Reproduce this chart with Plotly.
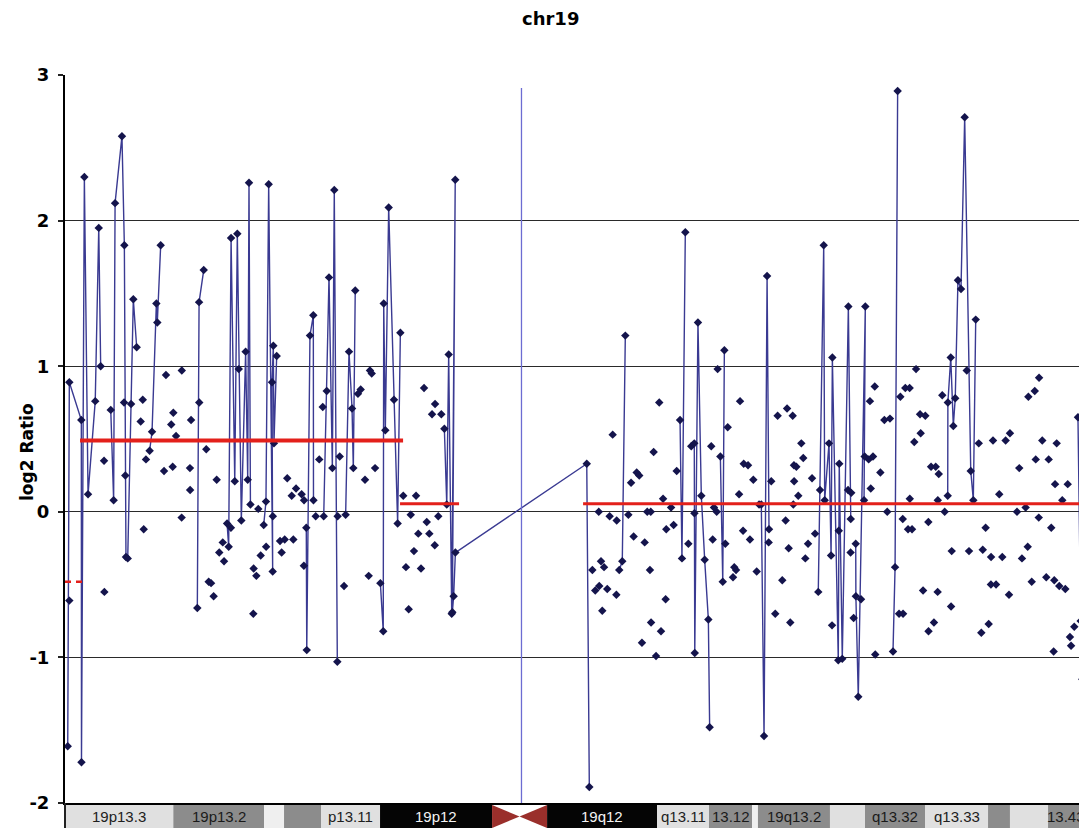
import plotly.graph_objects as go

# ---------------- data (positions in Mb along chr19, values log2 ratio) ----------------
# probes linked by the profile line (None = break in the line)
linked_pos = [
    0.17, 0.27, 1.02, 1.03, 1.21, 1.44, 1.89, 2.11, 2.23, None,
    2.86, 3.04, 3.13, 3.56, 3.71, 3.81, 3.92, 4.27, 4.48, None,
    5.29, 5.44, 5.71, 5.77, 5.98, None,
    8.27, 8.38, 8.67, None,
    10.13, 10.23, 10.38, 10.61, 10.77, 11.02, 11.29, 11.42, 11.50, 11.59, None,
    12.42, 12.56, 12.73, 12.98, 12.94, 13.02, 13.06, 13.23, None,
    15.08, 15.11, 15.31, 15.52, 15.53, None,
    16.17, 16.36, 16.50, 16.71, 16.83, 17.02, None,
    17.54, 17.75, 17.94, 18.02, 18.14, None,
    19.71, 19.89, 19.92, 20.02, 20.23, 20.56, 20.79, 20.96, None,
    23.71, 23.86, 23.98, 24.17, 24.39, 24.21, 24.29, 24.40, 32.61, 32.77, None,
    34.64, 34.83, 35.02, None,
    38.44, 38.56, 38.77, None,
    39.33, 39.36, 39.56, 39.77, 39.98, 40.21, 40.29, None,
    40.96, 41.11, 41.21, None,
    43.52, 43.69, 43.88, 44.00, None,
    47.08, 47.42, 47.48, 47.75, 47.88, 47.96, 48.33, 48.39, 48.58, 48.96, 49.11, None,
    49.42, 49.43, 49.58, 50.02, 49.94, None,
    51.75, 51.88, 52.04, None,
    55.17, 55.18, 55.36, 55.52, 55.64, 55.81, 56.00, 56.23, 56.61, 56.77, 56.92, None,
    63.31, 63.48, 63.58,
]
linked_val = [
    -1.61, 0.89, 0.63, -1.72, 2.30, 0.12, 0.76, 1.95, 1.00, None,
    0.70, 0.08, 2.12, 2.58, 1.83, -0.31, -0.32, 1.46, 1.13, None,
    0.42, 0.55, 1.43, 1.30, 1.83, None,
    -0.66, 1.44, 1.66, None,
    -0.08, -0.24, 1.88, 0.21, 1.91, -0.06, 1.10, 0.22, 2.26, 0.05, None,
    -0.09, 0.07, 2.25, -0.41, 0.89, 1.14, 0.47, 1.07, None,
    -0.11, -0.95, 1.21, 1.35, 0.08, None,
    -0.03, 0.83, 1.61, 0.30, 2.21, -1.03, None,
    -0.02, 1.10, 0.71, 0.30, 1.52, None,
    -0.49, -0.82, 1.43, 0.56, 2.09, 0.77, -0.08, 1.23, None,
    0.57, 0.05, 1.08, -0.70, 2.28, -0.69, -0.58, -0.28, 0.33, -1.89, None,
    -0.40, -0.34, 1.21, None,
    0.63, -0.32, 1.92, None,
    0.47, -0.97, 1.30, 0.11, -0.33, -0.74, -1.48, None,
    0.38, -0.48, 1.11, None,
    0.05, -1.54, 1.62, -0.12, None,
    -0.55, 1.83, 0.08, 0.47, -0.30, 1.06, -1.02, 0.33, -1.01, 1.41, -0.05, None,
    -0.22, -0.58, -1.27, 1.41, 0.08, None,
    -0.96, -0.38, 2.89, None,
    0.11, 0.75, 1.06, 0.59, 0.78, 1.59, 1.53, 2.71, 0.28, 0.08, 1.32, None,
    0.65, -0.75, -1.15,
]

# remaining probes, p arm
p_pos = [
    0.27, 2.44, 2.46, 3.69, 3.77, 4.13, 4.73, 4.86, 4.92, 5.06,
    6.19, 6.31, 6.64, 6.73, 6.77, 6.94, 7.29, 7.30, 7.81, 7.82,
    7.88, 8.39, 8.83, 8.98, 9.13, 9.29, 9.48, 9.64, 9.86, 9.94,
    10.37, 10.86, 11.79, 11.96, 11.77, 12.08, 12.23, 12.57, 12.99, 13.44,
    13.54, 13.73, 13.89, 14.17, 14.27, 14.44, 14.79, 14.94, 14.93, 15.67,
    15.89, 16.11, 17.04, 17.17, 17.44, 18.31, 18.48, 18.75, 18.98, 19.06,
    19.17, 19.38, 21.14, 21.31, 21.48, 21.61, 21.81, 21.94, 22.08, 22.25,
    22.44, 22.61, 22.77, 22.94, 23.13, 23.11, 23.33, 23.52,
]
p_val = [
    -0.61, 0.35, -0.55, 0.75, 0.25, 0.74, 0.62, 0.77, -0.12, 0.36,
    0.28, 0.94, 0.60, 0.31, 0.68, 0.52, -0.04, 0.97, 0.30, 0.15,
    0.63, 0.75, 0.43, -0.48, -0.49, -0.58, 0.22, -0.28, -0.21, -0.34,
    -0.11, 0.98, -0.39, -0.44, -0.70, 0.02, -0.30, -0.24, -0.03, -0.20,
    -0.28, -0.19, 0.23, 0.11, -0.19, 0.16, 0.12, 0.08, -0.37, -0.03,
    0.36, 0.72, -0.03, 0.38, -0.51, 0.81, 0.84, 0.22, -0.44, 0.97,
    0.95, 0.30, 0.11, -0.38, -0.67, -0.02, -0.27, 0.11, -0.15, -0.39,
    0.85, -0.07, -0.15, 0.67, 0.74, -0.23, -0.03, 0.67,
]

# remaining probes, q arm
q_pos = [
    32.96, 33.36, 33.50, 33.69, 33.14, 33.39, 33.58, 33.89, 34.04, 34.23,
    34.46, 34.48, 35.21, 35.38, 35.54, 35.73, 35.89, 36.06, 36.23, 36.39,
    36.61, 36.56, 36.63, 36.79, 36.94, 37.14, 37.25, 37.38, 37.54, 37.58,
    37.88, 38.04, 38.23, 38.96, 39.14, 39.34, 40.39, 40.48, 40.56, 40.73,
    40.79, 41.27, 41.42, 41.75, 41.83, 41.94, 42.13, 42.19, 42.38, 42.42,
    42.69, 42.81, 43.02, 43.23, 43.38, 43.98, 44.14, 44.39, 44.54, 44.83,
    45.04, 45.13, 45.48, 45.23, 45.33, 45.52, 45.56, 45.71, 45.57, 45.83,
    46.02, 46.14, 46.27, 46.44, 46.69, 46.88, 47.19, 47.94, 48.36, 48.94,
    49.14, 49.10, 49.29, 49.75, 49.98, 50.23, 50.50, 50.31, 50.36, 50.61,
    50.64, 50.96, 51.21, 51.56, 51.39, 52.13, 52.38, 52.21, 52.36, 52.52,
    52.79, 52.69, 52.94, 52.80, 53.19, 53.08, 53.44, 53.77, 53.48, 53.63,
    53.96, 53.97, 54.31, 54.13, 54.42, 54.61, 54.54, 54.55, 54.83, 54.98,
    55.38, 55.42, 56.36, 56.50, 57.11, 57.27, 57.36, 57.54, 57.73, 57.88,
    57.87, 58.19, 58.00, 58.39, 58.58, 58.79, 59.00, 59.06, 59.50, 59.64,
    59.81, 60.04, 60.17, 60.21, 60.42, 60.61, 60.67, 60.86, 60.88, 61.08,
    61.33, 61.48, 61.64, 61.83, 61.88, 61.98, 62.14, 62.33, 62.52, 62.67,
    62.81, 62.88, 63.08, 63.69, 61.79,
]
q_val = [
    -0.40, 0.00, -0.34, -0.38, -0.54, -0.51, -0.68, -0.53, -0.03, 0.53,
    -0.57, -0.06, -0.02, 0.20, -0.17, 0.27, 0.25, -0.90, -0.21, 0.00,
    0.00, -0.40, -0.76, 0.41, -0.99, 0.75, -0.82, 0.09, -0.60, -0.12,
    0.03, -0.09, 0.28, -0.22, 0.45, -0.01, 0.45, -0.19, 0.03, 0.00,
    0.98, -0.22, 0.58, -0.45, -0.38, -0.40, 0.12, 0.76, -0.13, 0.33,
    0.32, -0.19, 0.22, -0.41, 0.05, -0.21, 0.21, -0.70, 0.66, -0.47,
    -0.06, 0.71, 0.66, -0.25, -0.76, 0.05, 0.32, 0.31, 0.21, 0.11,
    0.47, 0.37, -0.32, -0.22, 0.23, -0.15, 0.15, -0.78, -0.13, 0.15,
    0.13, -0.28, -0.73, -0.60, 0.38, 0.36, 0.38, 0.76, 0.16, 0.86,
    -0.98, 0.27, 0.63, 0.64, 0.00, -0.70, -0.70, 0.79, -0.05, 0.85,
    0.85, -0.12, -0.12, 0.09, 0.98, 0.48, 0.67, 0.66, 0.54, -0.54,
    -0.07, -0.82, -0.76, 0.31, 0.31, 0.26, -0.55, 0.08, 0.80, 0.00,
    -0.65, -0.27, 0.97, -0.27, 0.47, -0.83, -0.26, -0.11, -0.77, -0.31,
    -0.50, -0.50, 0.49, 0.12, -0.31, 0.49, -0.57, 0.54, 0.00, 0.30,
    -0.32, 0.03, -0.24, 0.79, -0.48, 0.83, 0.36, -0.04, 0.92, 0.49,
    -0.45, 0.36, -0.11, -0.47, 0.19, 0.47, -0.51, 0.08, -0.53, 0.19,
    -0.86, -0.92, -0.79, 0.16, -0.96,
]

# segment means
seg_start = [0.0, 0.94, 20.94, 32.38]
seg_end = [1.35, 21.13, 24.63, 63.875]
seg_mean = [-0.48, 0.49, 0.055, 0.055]

centromere_pos = 28.53
centromere_line_top = 2.91

# cytobands
band_start = [0.0, 6.77, 12.44, 13.69, 16.0, 19.69, 26.69, 30.13, 37.0, 40.25,
              42.94, 43.31, 47.81, 50.0, 53.75, 57.69, 59.06, 61.44]
band_end = band_start[1:] + [63.875]
band_name = ["19p13.3", "19p13.2", "", "", "p13.11", "19p12", "", "19q12", "q13.11", "13.12",
             "", "19q13.2", "", "q13.32", "q13.33", "", "", "13.43"]
band_stain = ["light", "gray", "pale", "gray", "light", "black", "cen", "black", "light", "gray",
              "pale", "gray", "light", "gray", "light", "gray", "light", "gray"]

y_ticks = [-2, -1, 0, 1, 2, 3]
chrom_name = "chr19"
x_max = 63.875

assert len(linked_pos) == len(linked_val)
assert len(p_pos) == len(p_val)
assert len(q_pos) == len(q_val)

# ---------------- figure ----------------
fig = go.Figure()

fig.add_trace(go.Scatter(
    x=linked_pos, y=linked_val, mode="lines", connectgaps=False,
    line=dict(color="#3a3a92", width=1.4), hoverinfo="skip", showlegend=False))

fig.add_trace(go.Scatter(
    x=[centromere_pos, centromere_pos], y=[y_ticks[0], centromere_line_top], mode="lines",
    line=dict(color="#6c6cd2", width=1.3), hoverinfo="skip", showlegend=False))

all_x = p_pos + q_pos + [v for v in linked_pos if v is not None]
all_y = p_val + q_val + [v for v in linked_val if v is not None]
fig.add_trace(go.Scatter(
    x=all_x, y=all_y, mode="markers",
    marker=dict(symbol="diamond", size=6.5, color="#14144c", line=dict(width=0)),
    showlegend=False))

for i, (s, e, m) in enumerate(zip(seg_start, seg_end, seg_mean)):
    style = dict(color="#e3201b", width=4 if i == 1 else 3)
    if i == 0:
        style["dash"] = "6px,5px"
        style["width"] = 2.5
    fig.add_trace(go.Scatter(x=[s, e], y=[m, m], mode="lines", line=style,
                             hoverinfo="skip", showlegend=False))

# figure geometry (page body adds an 8 px offset)
fig_w, fig_h = 1079, 820
m_l, m_r, m_t, m_b = 57, 0, 67, 25
plot_h = fig_h - m_t - m_b
plot_w = fig_w - m_l - m_r

# ideogram
stain_color = {"light": "#e0e0e0", "pale": "#efefef", "gray": "#8c8c8c", "black": "#050505"}
text_color = {"light": "#202020", "pale": "#202020", "gray": "#1a1a1a", "black": "#f4f4f4"}
y_top = -2.0 / plot_h
y_bot = -25.0 / plot_h
shapes = []
annotations = []
for k, (s, e, nm, st) in enumerate(zip(band_start, band_end, band_name, band_stain)):
    if st == "cen":
        mid = (s + e) / 2
        ymid = (y_top + y_bot) / 2
        shapes.append(dict(type="rect", xref="x", yref="paper", x0=s, x1=e, y0=y_bot, y1=y_top,
                           fillcolor="white", line=dict(width=0), layer="above"))
        for edge in (s, e):
            shapes.append(dict(type="path", xref="x", yref="paper",
                               path=f"M {edge},{y_top} L {mid},{ymid} L {edge},{y_bot} Z",
                               fillcolor="#9a2f2b", line=dict(width=0), layer="above"))
        continue
    shapes.append(dict(type="rect", xref="x", yref="paper", x0=s, x1=e, y0=y_bot, y1=y_top,
                       fillcolor=stain_color[st], line=dict(width=0), layer="above"))
    if nm:
        last = k == len(band_start) - 1
        annotations.append(dict(x=s if last else (s + e) / 2, y=(y_top + y_bot) / 2,
                                xref="x", yref="paper", text=nm, showarrow=False,
                                xanchor="left" if last else "center", yanchor="middle",
                                xshift=-3 if last else 0,
                                font=dict(family="Liberation Sans, Arial", size=15,
                                          color=text_color[st])))

# left border of the ideogram
shapes.append(dict(type="line", xref="paper", yref="paper", x0=0, x1=0, y0=y_bot, y1=0,
                   line=dict(color="#222", width=2), layer="above"))

annotations.append(dict(x=(542 - m_l) / plot_w, y=(plot_h + m_t - 10) / plot_h, xref="paper",
                        yref="paper", text="<b>" + chrom_name + "</b>", showarrow=False,
                        xanchor="center", yanchor="middle",
                        font=dict(family="DejaVu Sans", size=18, color="black")))
annotations.append(dict(x=(19 - m_l) / plot_w, y=(plot_h + m_t - 444) / plot_h, xref="paper",
                        yref="paper", text="<b>log2 Ratio</b>", textangle=-90, showarrow=False,
                        xanchor="center", yanchor="middle",
                        font=dict(family="DejaVu Sans", size=17, color="black")))

fig.update_layout(
    width=fig_w, height=fig_h,
    margin=dict(l=m_l, r=m_r, t=m_t, b=m_b),
    plot_bgcolor="white", paper_bgcolor="white",
    showlegend=False,
    shapes=shapes, annotations=annotations,
    xaxis=dict(range=[0, x_max], showgrid=False, zeroline=False, showticklabels=False,
               ticks="", showline=True, linecolor="black", linewidth=2, fixedrange=True),
    yaxis=dict(range=[y_ticks[0], y_ticks[-1]], tickvals=y_ticks,
               ticktext=["<b>%d</b>" % t for t in y_ticks],
               ticks="outside", ticklen=5, tickcolor="#222", tickwidth=1.5,
               showgrid=True, gridcolor="#2a2a2a", gridwidth=1.2, zeroline=False,
               showline=True, linecolor="black", linewidth=2, ticklabelstandoff=5,
               tickfont=dict(family="DejaVu Sans", size=18, color="black"), fixedrange=True),
)

fig.write_html("out.html")
